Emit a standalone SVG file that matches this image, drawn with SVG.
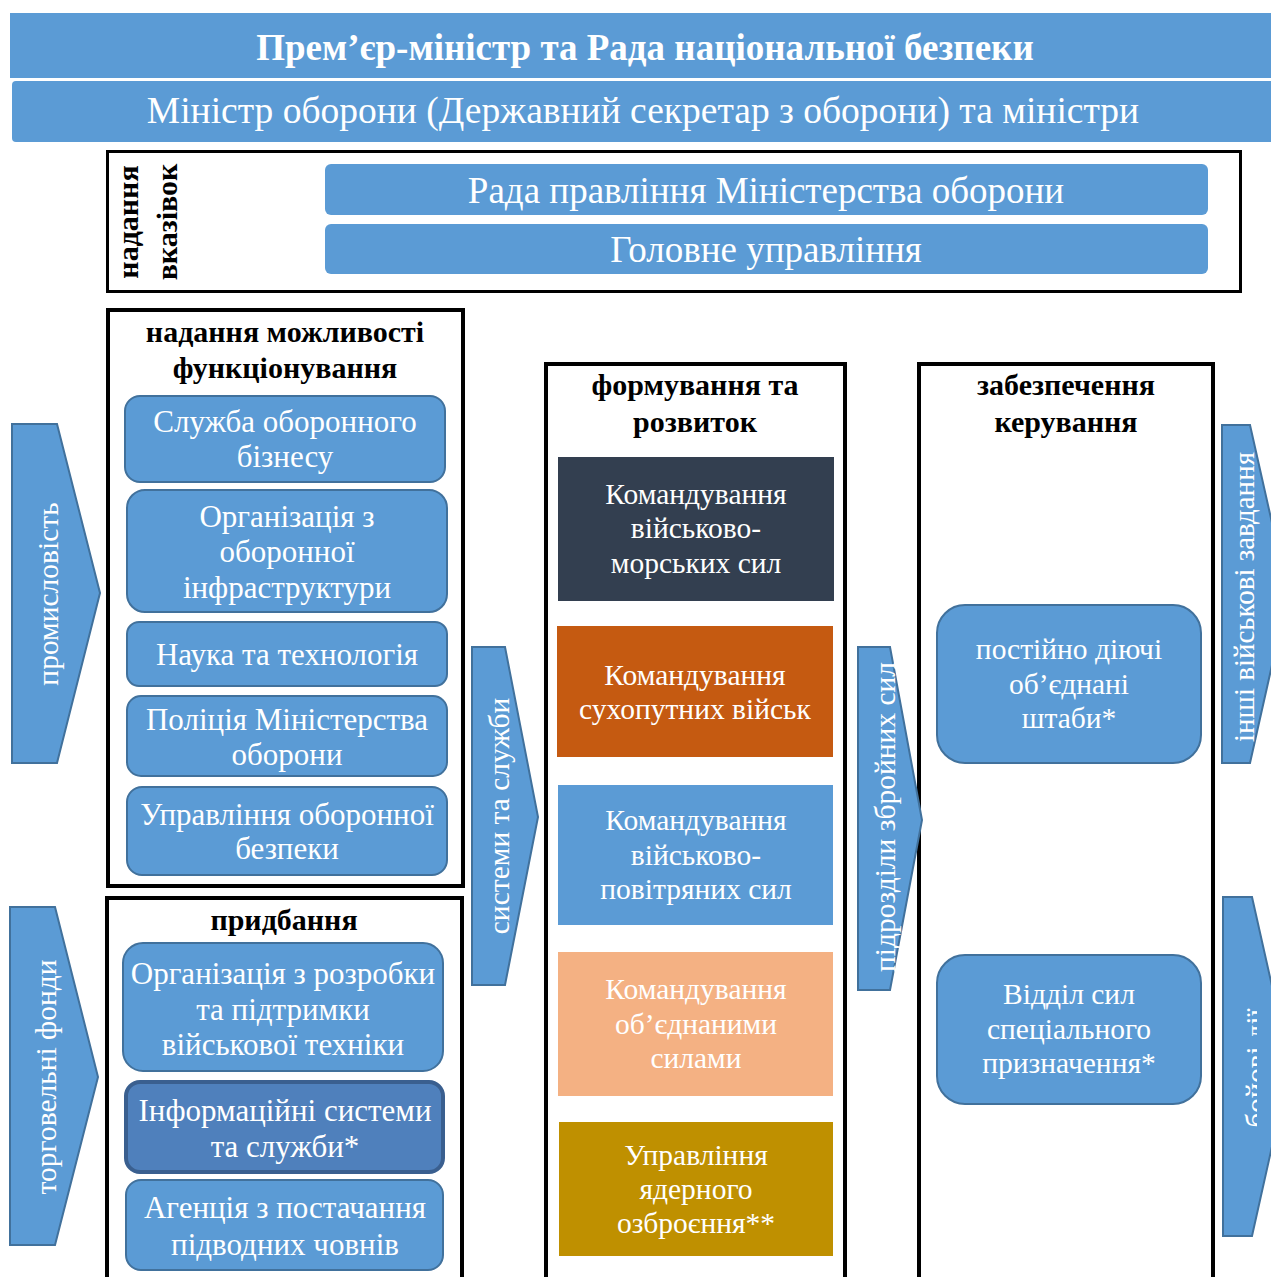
<svg xmlns="http://www.w3.org/2000/svg" width="1271" height="1277" viewBox="0 0 1271 1277">
  <defs>
    <style>
      .bar { fill: #5B9BD5; }
      .node { fill: #5B9BD5; stroke: #41719C; stroke-width: 2; }
      .node-dark { fill: #4F80BC; stroke: #3A5F8F; stroke-width: 4; }
      .frame { fill: #FFFFFF; stroke: #000000; stroke-width: 4; }
      .frame-thin { fill: #FFFFFF; stroke: #000000; stroke-width: 3; }
      .flow { fill: #5B9BD5; stroke: #41719C; stroke-width: 2; }
      .t { font-family: "Liberation Serif", "Times New Roman", serif; fill: #FFFFFF; text-anchor: middle; }
      .head { font-family: "Liberation Serif", "Times New Roman", serif; fill: #000000; text-anchor: middle; font-weight: bold; font-size: 30px; }
      .box { font-size: 31px; }
      .cmd { font-size: 29.5px; }
      .arrow-t { font-size: 29.5px; }
    </style>
    <clipPath id="clip-combat">
      <rect x="1220" y="890" width="37" height="360"/>
    </clipPath>
  </defs>

  <!-- top level bars -->
  <g id="pm-nsc">
    <rect class="bar" x="10" y="13" width="1271" height="65"/>
    <text class="t" x="645" y="60" font-size="37" font-weight="bold">Прем’єр-міністр та Рада національної безпеки</text>
  </g>
  <g id="minister">
    <rect class="bar" x="12" y="81" width="1275" height="61" rx="4"/>
    <text class="t" x="643" y="123" font-size="37.5">Міністр оборони (Державний секретар з оборони) та міністри</text>
  </g>

  <!-- guidance block -->
  <g id="guidance">
    <rect class="frame-thin" x="107.5" y="151.5" width="1133" height="140"/>
    <g transform="translate(0,222) rotate(-90)">
      <text class="head" x="0" y="138" font-size="27">надання</text>
      <text class="head" x="0" y="177" font-size="27">вказівок</text>
    </g>
  </g>
  <g id="board">
    <rect class="bar" x="325" y="164" width="883" height="51" rx="6"/>
    <text class="t" x="766" y="203" font-size="37">Рада правління Міністерства оборони</text>
  </g>
  <g id="head-office">
    <rect class="bar" x="325" y="224" width="883" height="50" rx="6"/>
    <text class="t" x="766" y="262" font-size="37">Головне управління</text>
  </g>

  <!-- enabling column -->
  <g id="enabling">
    <rect class="frame" x="108" y="310" width="355" height="576"/>
    <text class="head" x="285" y="342">надання можливості</text>
    <text class="head" x="285" y="378">функціонування</text>
  </g>
  <g id="defence-business">
    <rect class="node" x="125" y="396" width="320" height="86" rx="15"/>
    <text class="t box" x="285" y="432">Служба оборонного</text>
    <text class="t box" x="285" y="467">бізнесу</text>
  </g>
  <g id="infrastructure">
    <rect class="node" x="127" y="490" width="320" height="122" rx="18"/>
    <text class="t box" x="287" y="527">Організація з</text>
    <text class="t box" x="287" y="562">оборонної</text>
    <text class="t box" x="287" y="598">інфраструктури</text>
  </g>
  <g id="science">
    <rect class="node" x="127" y="622" width="320" height="64" rx="12"/>
    <text class="t box" x="287" y="665">Наука та технологія</text>
  </g>
  <g id="police">
    <rect class="node" x="127" y="696" width="320" height="80" rx="14"/>
    <text class="t box" x="287" y="730">Поліція Міністерства</text>
    <text class="t box" x="287" y="765">оборони</text>
  </g>
  <g id="security">
    <rect class="node" x="127" y="787" width="320" height="88" rx="15"/>
    <text class="t box" x="287" y="825">Управління оборонної</text>
    <text class="t box" x="287" y="859">безпеки</text>
  </g>

  <!-- acquisition column -->
  <g id="acquisition">
    <rect class="frame" x="107" y="898" width="355" height="400"/>
    <text class="head" x="284" y="930">придбання</text>
  </g>
  <g id="equipment">
    <rect class="node" x="123" y="943" width="320" height="128" rx="20"/>
    <text class="t box" x="283" y="984">Організація з розробки</text>
    <text class="t box" x="283" y="1020">та підтримки</text>
    <text class="t box" x="283" y="1055">військової техніки</text>
  </g>
  <g id="info-systems">
    <rect class="node-dark" x="126" y="1082" width="317" height="90" rx="14"/>
    <text class="t box" x="285" y="1121">Інформаційні системи</text>
    <text class="t box" x="285" y="1157">та служби*</text>
  </g>
  <g id="submarines">
    <rect class="node" x="126" y="1180" width="317" height="90" rx="15"/>
    <text class="t box" x="285" y="1218">Агенція з постачання</text>
    <text class="t box" x="285" y="1255">підводних човнів</text>
  </g>

  <!-- force generation column -->
  <g id="generation">
    <rect class="frame" x="546" y="364" width="299" height="940"/>
    <text class="head" x="695" y="395">формування та</text>
    <text class="head" x="695" y="432">розвиток</text>
  </g>
  <g id="navy">
    <rect x="558" y="457" width="276" height="144" fill="#333F50"/>
    <text class="t cmd" x="696" y="504">Командування</text>
    <text class="t cmd" x="696" y="538">військово-</text>
    <text class="t cmd" x="696" y="573">морських сил</text>
  </g>
  <g id="army">
    <rect x="557" y="626" width="276" height="131" fill="#C55A11"/>
    <text class="t cmd" x="695" y="685">Командування</text>
    <text class="t cmd" x="695" y="719">сухопутних військ</text>
  </g>
  <g id="air-force">
    <rect x="558" y="785" width="275" height="140" fill="#5B9BD5"/>
    <text class="t cmd" x="696" y="830">Командування</text>
    <text class="t cmd" x="696" y="865">військово-</text>
    <text class="t cmd" x="696" y="899">повітряних сил</text>
  </g>
  <g id="joint-forces">
    <rect x="558" y="952" width="275" height="144" fill="#F4B183"/>
    <text class="t cmd" x="696" y="999">Командування</text>
    <text class="t cmd" x="696" y="1034">об’єднаними</text>
    <text class="t cmd" x="696" y="1068">силами</text>
  </g>
  <g id="nuclear">
    <rect x="559" y="1122" width="274" height="134" fill="#BF9000"/>
    <text class="t cmd" x="696" y="1165">Управління</text>
    <text class="t cmd" x="696" y="1199">ядерного</text>
    <text class="t cmd" x="696" y="1233">озброєння**</text>
  </g>

  <!-- operations column -->
  <g id="operations">
    <rect class="frame" x="919" y="364" width="294" height="940"/>
    <text class="head" x="1066" y="395">забезпечення</text>
    <text class="head" x="1066" y="432">керування</text>
  </g>
  <g id="joint-hq">
    <rect class="node" x="937" y="605" width="264" height="158" rx="28"/>
    <text class="t cmd" x="1069" y="659">постійно діючі</text>
    <text class="t cmd" x="1069" y="694">об’єднані</text>
    <text class="t cmd" x="1069" y="728">штаби*</text>
  </g>
  <g id="special-forces">
    <rect class="node" x="937" y="955" width="264" height="149" rx="28"/>
    <text class="t cmd" x="1069" y="1004">Відділ сил</text>
    <text class="t cmd" x="1069" y="1039">спеціального</text>
    <text class="t cmd" x="1069" y="1073">призначення*</text>
  </g>

  <!-- flow arrows -->
  <g id="connectors">
    <g id="industry">
      <polygon class="flow" points="12,424 57,424 100,593 57,763 12,763"/>
      <g transform="translate(0,594) rotate(-90)"><text class="t arrow-t" x="0" y="58">промисловість</text></g>
    </g>
    <g id="trading-funds">
      <polygon class="flow" points="10,907 55,907 98,1077 55,1245 10,1245"/>
      <g transform="translate(0,1077) rotate(-90)"><text class="t arrow-t" x="0" y="56">торговельні фонди</text></g>
    </g>
    <g id="systems-services">
      <polygon class="flow" points="472,647 505,647 538,817 505,985 472,985"/>
      <g transform="translate(0,816) rotate(-90)"><text class="t arrow-t" x="0" y="509">системи та служби</text></g>
    </g>
    <g id="force-units">
      <polygon class="flow" points="858,647 890,647 922,820 890,990 858,990"/>
      <g transform="translate(0,817) rotate(-90)"><text class="t arrow-t" x="0" y="895">підрозділи збройних сил</text></g>
    </g>
    <g id="other-tasks">
      <polygon class="flow" points="1222,425 1250,425 1288,594 1250,763 1222,763"/>
      <g transform="translate(0,597) rotate(-90)"><text class="t" font-size="29" x="0" y="1254">інші військові завдання</text></g>
    </g>
    <g id="combat">
      <polygon class="flow" points="1223,897 1252,897 1290,1066 1252,1236 1223,1236"/>
      <g clip-path="url(#clip-combat)">
        <g transform="translate(0,1068) rotate(-90)"><text class="t" font-size="29" x="0" y="1266">бойові дії</text></g>
      </g>
    </g>
  </g>
</svg>
